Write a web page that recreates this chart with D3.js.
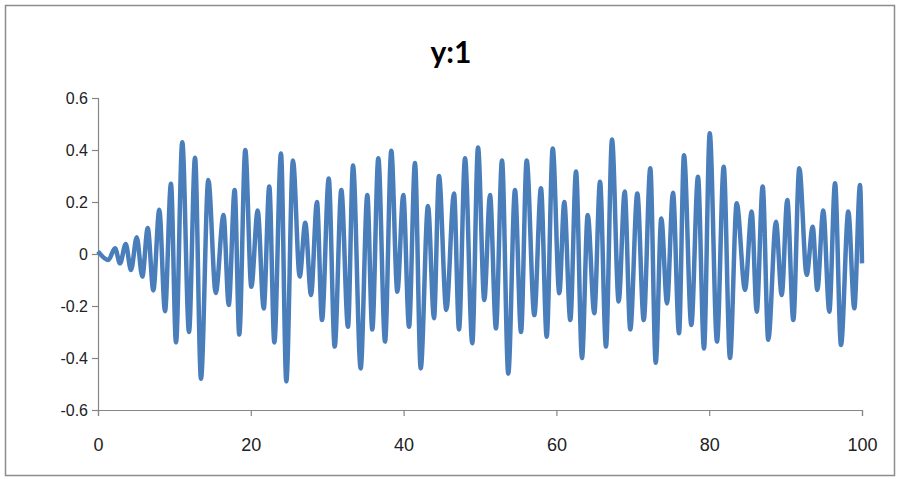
<!DOCTYPE html>
<html>
<head>
<meta charset="utf-8">
<script src="https://cdnjs.cloudflare.com/ajax/libs/d3/7.8.5/d3.min.js"></script>
<style>
  body { margin: 0; background: #fff; }
</style>
</head>
<body>
<div id="chart"></div>
<script>
// turning points of the y:1 signal
const xVals = [0, 1.35, 2.23, 2.88, 3.63, 4.32, 5.07, 5.8, 6.51, 7.24,
  8.02, 8.77, 9.55, 10.21, 11.03, 11.91, 12.7, 13.48, 14.44, 15.41,
  16.43, 17.11, 17.89, 18.49, 19.28, 20.07, 20.9, 21.69, 22.42, 23.08,
  23.95, 24.65, 25.52, 26.4, 27.13, 27.88, 28.66, 29.32, 30.2, 30.98,
  31.85, 32.72, 33.38, 34.38, 35.25, 35.9, 36.69, 37.57, 38.39, 39.18,
  39.96, 40.71, 41.49, 42.24, 43.19, 43.98, 44.63, 45.59, 46.6, 47.25,
  48.04, 48.99, 49.74, 50.56, 51.31, 52.09, 52.88, 53.7, 54.58, 55.37,
  56.11, 57.11, 57.98, 58.73, 59.52, 60.38, 61.03, 61.82, 62.57, 63.35,
  64.1, 64.96, 65.71, 66.49, 67.28, 68.15, 68.94, 69.67, 70.59, 71.43,
  72.29, 73.0, 73.73, 74.48, 75.26, 76.05, 76.7, 77.66, 78.53, 79.32,
  80.07, 81.02, 81.9, 82.72, 83.6, 84.69, 85.56, 86.22, 87.0, 87.73,
  88.74, 89.49, 90.22, 91.01, 91.79, 92.76, 93.55, 94.15, 94.93, 95.72,
  96.47, 97.25, 98.21, 98.99, 99.74, 100];
const yVals = [0.01, -0.023, 0.022, -0.036, 0.038, -0.062, 0.064, -0.087, 0.1, -0.14,
  0.17, -0.22, 0.27, -0.34, 0.43, -0.3, 0.37, -0.48, 0.285, -0.15,
  0.15, -0.196, 0.246, -0.31, 0.4, -0.126, 0.167, -0.21, 0.26, -0.34,
  0.387, -0.49, 0.36, -0.087, 0.12, -0.158, 0.2, -0.254, 0.29, -0.356,
  0.246, -0.28, 0.34, -0.44, 0.227, -0.29, 0.368, -0.337, 0.397, -0.145,
  0.227, -0.28, 0.35, -0.44, 0.185, -0.247, 0.3, -0.215, 0.233, -0.29,
  0.368, -0.343, 0.41, -0.177, 0.227, -0.286, 0.36, -0.46, 0.246, -0.3,
  0.36, -0.235, 0.253, -0.318, 0.406, -0.151, 0.2, -0.254, 0.317, -0.4,
  0.15, -0.228, 0.278, -0.356, 0.44, -0.183, 0.24, -0.29, 0.233, -0.254,
  0.33, -0.418, 0.137, -0.19, 0.236, -0.305, 0.38, -0.273, 0.297, -0.363,
  0.464, -0.337, 0.336, -0.4, 0.195, -0.138, 0.163, -0.222, 0.26, -0.33,
  0.124, -0.158, 0.208, -0.254, 0.33, -0.08, 0.105, -0.138, 0.167, -0.222,
  0.272, -0.35, 0.163, -0.209, 0.265, -0.036];
const xTicks = [0, 20, 40, 60, 80, 100];
const yTicks = [-0.6, -0.4, -0.2, 0, 0.2, 0.4, 0.6];
const title = "y:1";

const data = xVals.map((x, i) => ({ x: x, y: yVals[i] }));

const width = 900, height = 479;
const margin = { top: 98, right: 38, bottom: 69, left: 98 };

const svg = d3.select("#chart").append("svg")
    .attr("width", width)
    .attr("height", height)
    .style("display", "block");

// outer frame
svg.append("rect")
    .attr("x", 5.5)
    .attr("y", 5.5)
    .attr("width", 889)
    .attr("height", 470)
    .attr("fill", "#fff")
    .attr("stroke", "#8c8c8c")
    .attr("stroke-width", 1.5);

// scales
const x = d3.scaleLinear()
    .domain([0, 100])
    .range([margin.left, width - margin.right]);

const y = d3.scaleLinear()
    .domain([-0.6, 0.6])
    .range([height - margin.bottom, margin.top]);

// title
svg.append("text")
    .attr("x", 451)
    .attr("y", 63)
    .attr("text-anchor", "middle")
    .style("font-family", "Lato, 'Open Sans', sans-serif")
    .style("font-weight", "bold")
    .style("font-size", "30px")
    .attr("fill", "#000")
    .text(title);

// labels use a plain hyphen for minus, like the original
const fmtY = d => d === 0 ? "0" : d3.format(".1f")(d).replace("\u2212", "-");

// axes
const xAxis = svg.append("g")
    .attr("transform", `translate(0,${height - margin.bottom})`)
    .call(d3.axisBottom(x).tickValues(xTicks).tickSize(6).tickPadding(22).tickFormat(d3.format("d")));

const yAxis = svg.append("g")
    .attr("transform", `translate(${margin.left},0)`)
    .call(d3.axisLeft(y).tickValues(yTicks).tickSize(6).tickPadding(4).tickFormat(fmtY));

[xAxis, yAxis].forEach(g => {
    g.select(".domain").attr("stroke", "#868686").attr("stroke-width", 1.2);
    g.selectAll(".tick line").attr("stroke", "#868686").attr("stroke-width", 1.2);
    g.selectAll(".tick text")
        .attr("fill", "#222")
        .style("font-family", "'Liberation Sans', Arial, sans-serif")
        .style("font-size", "16px");
});
xAxis.selectAll(".tick text").style("font-size", "18px");

// signal line
const line = d3.line()
    .x(d => x(d.x))
    .y(d => y(d.y))
    .curve(d3.curveMonotoneX);

svg.append("path")
    .datum(data)
    .attr("fill", "none")
    .attr("stroke", "#4a7ebb")
    .attr("stroke-width", 4.5)
    .attr("stroke-linejoin", "round")
    .attr("d", line);
</script>
</body>
</html>
